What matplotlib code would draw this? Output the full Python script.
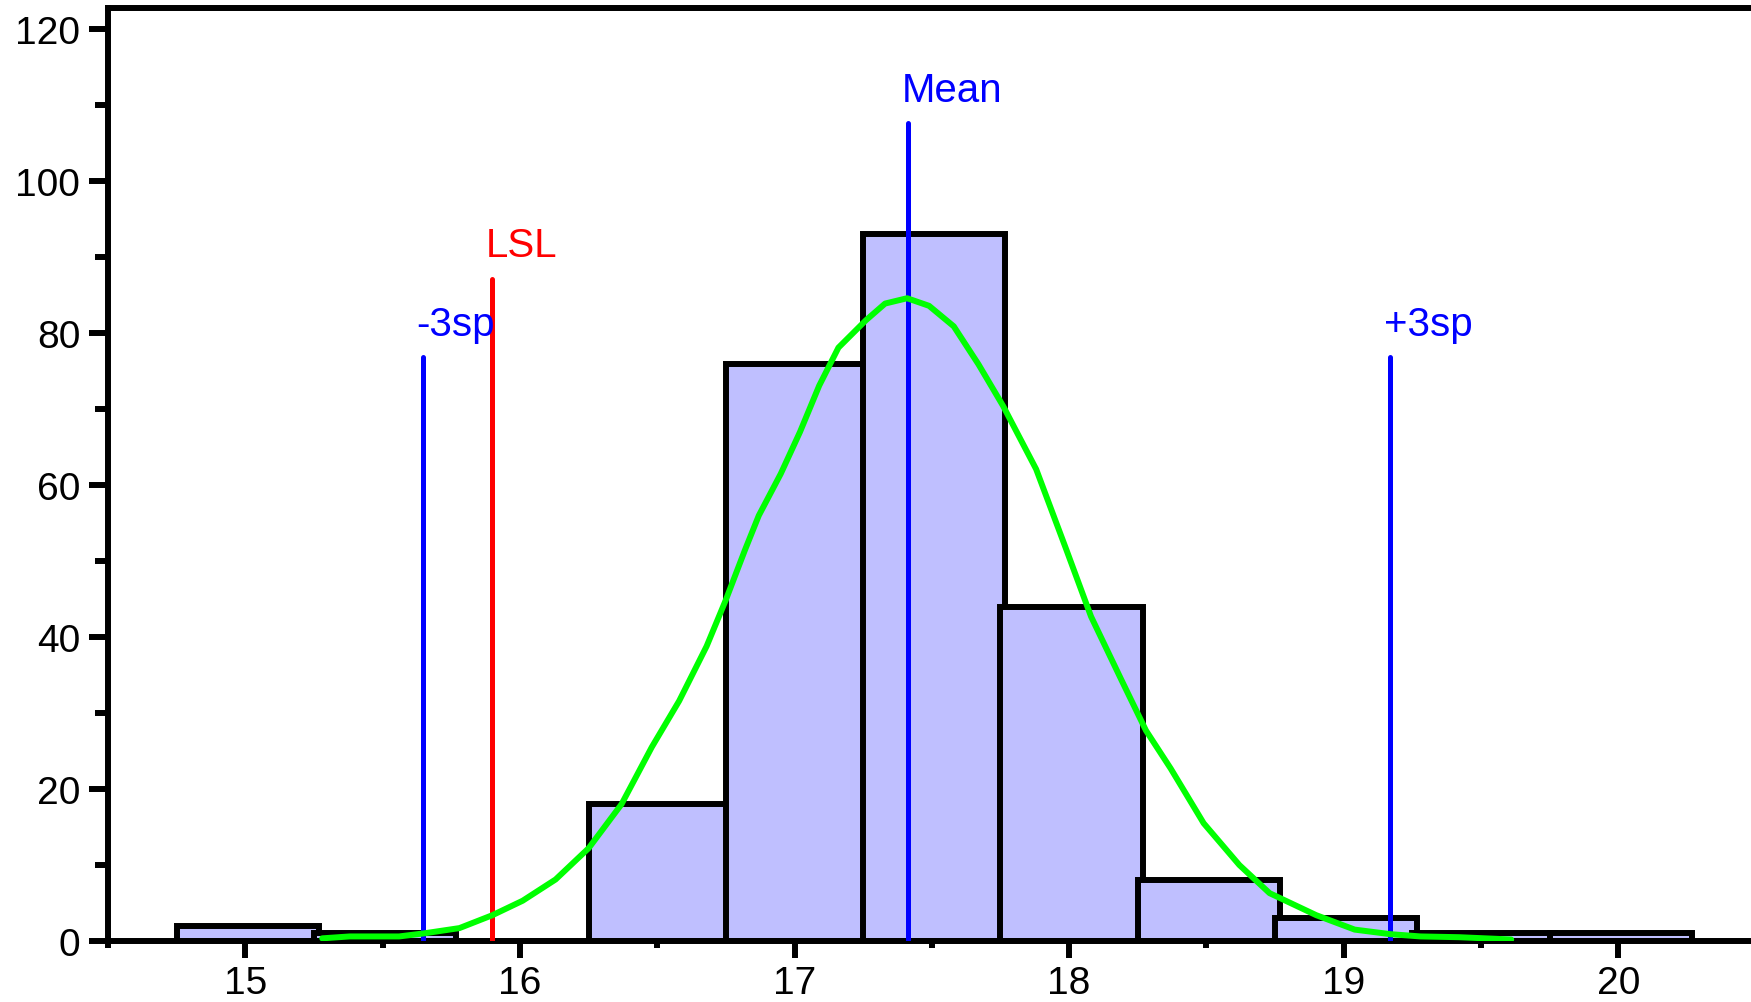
import numpy as np
import matplotlib
matplotlib.use("Agg")
import matplotlib.pyplot as plt
from matplotlib.ticker import MultipleLocator

plt.rcParams['font.family'] = ['Liberation Sans', 'DejaVu Sans']

# histogram bins (centres, width 0.5) and counts
bin_centers = [15.0, 15.5, 16.0, 16.5, 17.0, 17.5, 18.0, 18.5, 19.0, 19.5, 20.0]
counts = [2, 1, 0, 18, 76, 93, 44, 8, 3, 1, 1]
bin_width = 0.5

# fitted curve
curve_x = [15.28, 15.38, 15.56, 15.65, 15.78, 15.9, 16.01, 16.13, 16.25, 16.37,
           16.48, 16.58, 16.68, 16.75, 16.82, 16.87, 16.95, 17.02, 17.09, 17.16,
           17.26, 17.33, 17.41, 17.49, 17.58, 17.67, 17.76, 17.88, 17.99, 18.08,
           18.19, 18.28, 18.37, 18.49, 18.62, 18.73, 18.90, 19.04, 19.17, 19.28,
           19.42, 19.61]
curve_y = [0.35, 0.6, 0.6, 1.0, 1.7, 3.4, 5.3, 8.1, 12.2, 18.0,
           25.5, 31.6, 38.8, 44.9, 51.5, 56.0, 61.5, 67.0, 73.1, 78.1,
           81.7, 83.9, 84.6, 83.6, 80.9, 75.9, 70.4, 62.1, 51.5, 42.7,
           34.4, 27.7, 22.7, 15.5, 10.0, 6.3, 3.4, 1.5, 0.9, 0.6,
           0.5, 0.2]

# reference lines: name, x position, top of line, colour
ref_names = ['-3sp', 'LSL', 'Mean', '+3sp']
ref_x = [15.648, 15.898, 17.414, 19.17]
ref_top = [76.8, 87.1, 107.6, 76.8]
ref_colors = ['#0000ff', '#ff0000', '#0000ff', '#0000ff']

W, H = 1751, 1003
fig = plt.figure(figsize=(W / 100, H / 100), dpi=100)
ax = fig.add_axes([108 / W, 1 - 942 / H, 1 - 108 / W, (942 - 9) / H])

# bars start at the bin edge and overlap the next one a little, as in the original
left_edges = [c - bin_width / 2 for c in bin_centers]
ax.bar(left_edges, counts, width=bin_width + 0.018, align='edge', color='#bfbfff',
       edgecolor='black', linewidth=4.3, zorder=2)

for name, x, top, c in zip(ref_names, ref_x, ref_top, ref_colors):
    ax.plot([x, x], [0, top], color=c, linewidth=3.6,
            solid_capstyle='round', zorder=3)
    ax.text(x - 0.024, top + 3.0, name, color=c, fontsize=29,
            ha='left', va='baseline', zorder=5)

ax.plot(curve_x, curve_y, color='#00ff00', linewidth=4.3,
        solid_joinstyle='round', solid_capstyle='round', zorder=4)

ax.set_xlim(14.5, 14.5 + (W - 108) / 274.6)
ax.set_ylim(0, 122.8)

ax.xaxis.set_major_locator(MultipleLocator(1))
ax.xaxis.set_minor_locator(MultipleLocator(0.5))
ax.yaxis.set_major_locator(MultipleLocator(20))
ax.yaxis.set_minor_locator(MultipleLocator(10))

ax.spines['right'].set_visible(False)
for s in ['left', 'top', 'bottom']:
    ax.spines[s].set_linewidth(4.3)

ax.tick_params(axis='both', which='major', labelsize=28, width=4.3)
ax.tick_params(axis='y', which='major', length=14, pad=6)
ax.tick_params(axis='y', which='minor', length=9.5, width=4.3)
ax.tick_params(axis='x', which='major', length=12, pad=5)
ax.tick_params(axis='x', which='minor', length=5, width=4.3)

fig.savefig('out.png', dpi=100)
